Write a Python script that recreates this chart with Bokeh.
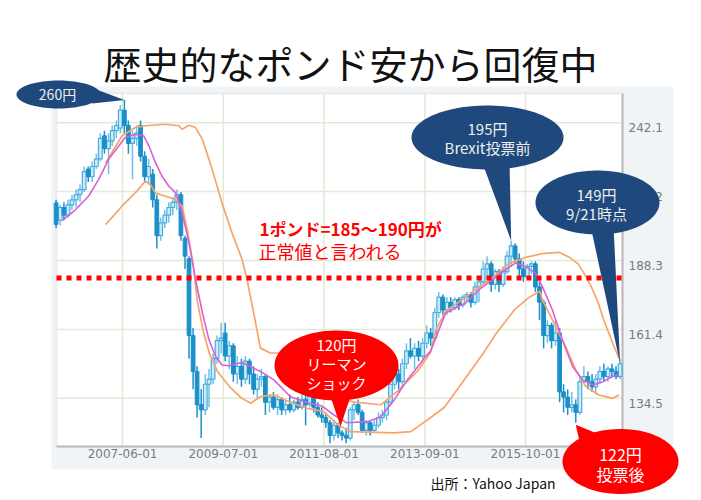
import numpy as np
import pandas as pd
from bokeh.plotting import figure
from bokeh.models import ColumnDataSource, Range1d, Label, PolyAnnotation, BoxAnnotation
from bokeh.core.properties import value
from bokeh.embed import file_html
from bokeh.resources import INLINE

# ---------------- data (monthly candles, 2006-01 .. 2017-09) ----------------
candle_dates = pd.date_range("2006-01-01", periods=141, freq="MS") + pd.Timedelta(days=14)

opens = [
    210.8, 204, 209, 206, 210, 212, 214, 216, 224, 221, 225, 228,      # 2006
    237, 232, 235, 239, 240, 247, 241, 234, 236, 241, 229, 221,        # 2007
    222, 212, 198, 203, 206, 209, 211, 214, 197, 189, 159, 145,        # 2008
    132, 130, 140, 142, 150, 157, 160, 151, 155, 144, 147, 142,        # 2009
    149, 144, 138, 142, 143, 133, 135, 131, 134, 130, 132, 130,        # 2010
    133, 131, 134, 132, 136, 131, 128, 127, 125, 120, 124, 121,        # 2011
    120, 119, 130, 132, 129, 122, 125, 122, 124, 127, 128, 133,        # 2012
    140, 144, 141, 148, 153, 151, 154, 151, 156, 160, 158, 168,        # 2013
    174, 169, 172, 170, 173, 171, 174, 175, 172, 178, 180, 185,        # 2014
    187, 179, 184, 179, 184, 190, 194, 189, 185, 182, 186, 187,        # 2015
    178, 172, 159, 163, 157, 160, 137, 135, 131, 132, 129, 141,        # 2016
    143, 141, 139, 142, 145, 143, 146, 145, 143]                       # 2017
highs = [
    212, 210, 211, 212, 214, 216, 218, 225, 225, 227, 230, 238,
    239, 238, 241, 243, 249, 251, 243, 239, 241, 243, 231, 228,
    224, 214, 205, 208, 211, 213, 216, 215, 198, 190, 162, 147,
    138, 144, 146, 152, 159, 164, 164, 157, 156, 151, 150, 151,
    150, 147, 144, 146, 144, 136, 137, 136, 135, 134, 136, 134,
    135, 136, 136, 138, 137, 133, 131, 129, 126, 126, 125, 122,
    123, 131, 133, 134, 130, 126, 126, 126, 129, 130, 134, 141,
    146, 146, 150, 156, 158, 156, 157, 158, 163, 162, 170, 176,
    175, 174, 174, 174, 174, 175, 176, 176, 180, 181, 188, 190,
    188, 185, 185, 186, 192, 196, 195, 191, 188, 187, 188, 188,
    180, 173, 165, 164, 165, 162, 140, 138, 137, 134, 143, 147,
    145, 144, 144, 147, 148, 147, 148, 147, 150]
lows = [
    201, 202, 204, 205, 208, 209, 211, 215, 219, 219, 224, 227,
    230, 222, 233, 236, 238, 238, 230, 220, 233, 227, 219, 218,
    209, 193, 196, 201, 203, 206, 208, 196, 185, 150, 138, 127,
    119, 128, 131, 140, 148, 152, 149, 146, 141, 140, 139, 140,
    140, 136, 134, 139, 128, 129, 130, 128, 128, 128, 129, 129,
    130, 130, 124, 131, 129, 127, 125, 123, 117, 118, 119, 118,
    117, 118, 126, 128, 121, 120, 120, 121, 123, 125, 126, 132,
    138, 137, 139, 146, 150, 146, 149, 150, 154, 155, 157, 166,
    167, 167, 168, 169, 169, 170, 172, 170, 171, 172, 179, 181,
    176, 177, 176, 178, 183, 186, 187, 182, 180, 181, 183, 176,
    165, 154, 156, 154, 155, 133, 129, 128, 129, 125, 128, 140,
    138, 137, 136, 140, 141, 141, 143, 142, 142]
closes = [
    202.4, 209, 206, 210, 212, 214, 216, 223, 221, 225, 228, 236,
    232, 235, 239, 241, 247, 241, 234, 236, 238, 229, 221, 225,
    212, 198, 203, 206, 209, 211, 214, 198, 190, 159, 145, 132,
    130, 140, 142, 150, 157, 158, 151, 155, 144, 147, 142, 149,
    144, 138, 142, 143, 133, 135, 131, 134, 130, 132, 130, 133,
    131, 134, 132, 136, 131, 128, 127, 125, 120, 124, 121, 120,
    119, 130, 132, 129, 122, 125, 122, 124, 127, 128, 133, 140,
    144, 141, 148, 153, 151, 154, 151, 156, 160, 158, 168, 174,
    169, 172, 170, 173, 171, 174, 175, 172, 178, 180, 185, 187,
    179, 184, 179, 184, 190, 194, 189, 185, 182, 186, 187, 178,
    172, 159, 163, 157, 160, 137, 135, 131, 132, 129, 141, 143,
    141, 139, 142, 145, 143, 146, 145, 143, 148]

# short moving average (pink)
pink_dates = ["2006-03-02", "2006-06-08", "2006-09-18", "2006-12-03", "2007-02-18", "2007-05-03",
              "2007-06-21", "2007-09-05", "2007-11-08", "2007-12-18", "2008-02-05", "2008-03-24",
              "2008-05-15", "2008-07-06", "2008-08-24", "2008-10-15", "2008-12-03", "2009-01-24",
              "2009-03-14", "2009-05-03", "2009-06-21", "2009-08-11", "2009-11-18", "2010-04-08",
              "2010-07-18", "2010-11-21", "2011-03-18", "2011-07-18", "2011-10-15", "2012-01-18",
              "2012-06-24", "2012-10-03", "2013-01-11", "2013-04-21", "2013-07-30", "2013-09-05",
              "2013-10-15", "2013-11-21", "2014-02-05", "2014-07-06", "2014-10-15", "2015-01-24",
              "2015-05-03", "2015-07-18", "2015-09-30", "2015-12-15", "2016-02-05", "2016-04-21",
              "2016-07-06", "2016-09-21", "2016-12-06", "2017-02-21", "2017-05-06", "2017-07-21",
              "2017-09-08"]
pink_vals = [204, 208, 213.5, 220, 228, 233, 236.3, 237.6, 237, 233, 226.5, 221.3,
             217.4, 214.7, 207, 195.2, 181, 168, 157.5, 151, 147.5, 147.2, 148.5, 145,
             141.7, 135.1, 133, 131.5, 128, 125, 125.4, 127.3, 133.8, 141.7, 148.2, 150.8,
             153, 158, 167.8, 171.7, 176.9, 180.8, 184.7, 187.3, 186, 183.4, 178.2, 169.1,
             157.3, 146.9, 141.7, 139.7, 141, 143, 143.6]

# slow orange line
orange_a_dates = ["2007-01-24", "2007-05-27", "2007-09-05", "2007-11-21", "2008-04-21", "2008-07-30",
                  "2008-08-24", "2008-10-15", "2008-12-03", "2009-01-24", "2009-04-08", "2009-06-21",
                  "2009-09-05", "2009-11-21", "2009-12-30", "2010-02-18", "2010-04-08", "2010-06-21",
                  "2010-09-05", "2011-01-18", "2011-05-18", "2011-09-18", "2012-03-18", "2012-10-03",
                  "2013-02-05", "2013-07-06", "2013-10-15", "2013-11-21", "2014-02-05", "2014-07-06",
                  "2014-10-15", "2015-01-24", "2015-05-27", "2015-09-30", "2016-02-05", "2016-06-08",
                  "2016-08-24", "2016-11-01", "2016-12-20", "2017-02-10", "2017-04-01", "2017-05-15",
                  "2017-07-21", "2017-09-08"]
orange_a_vals = [226.5, 236.9, 240.2, 240.9, 241.5, 240.9, 239.5, 241.1, 240.2, 235.6, 223.9, 210.8,
                 199.1, 188.6, 180.2, 167.2, 154.1, 152.2, 152.2, 147, 141, 135.5, 133, 132,
                 137.2, 145, 152.5, 161, 168.5, 174, 178, 181.5, 187, 189.5, 191, 191.5,
                 189.7, 187, 183, 178, 172, 165, 156, 150]

# second orange line
orange_b_dates = ["2007-01-24", "2007-05-27", "2007-09-05", "2007-11-21", "2007-12-27", "2008-02-05",
                  "2008-04-21", "2008-07-06", "2008-08-24", "2008-10-03", "2008-11-18", "2008-12-18",
                  "2009-02-03", "2009-03-18", "2009-05-18", "2009-08-18", "2009-11-18", "2010-01-24",
                  "2010-04-08", "2010-07-18", "2010-11-18", "2011-03-27", "2011-07-30", "2011-11-18",
                  "2012-02-18", "2013-01-08", "2013-05-18", "2013-10-15", "2014-01-27", "2014-06-15",
                  "2014-11-15", "2015-02-24", "2015-07-09", "2015-10-30", "2016-01-18", "2016-02-05",
                  "2016-04-21", "2016-07-30", "2016-10-15", "2016-12-30", "2017-04-08", "2017-07-21",
                  "2017-09-08"]
orange_b_vals = [202.3, 209.5, 214.7, 219.3, 218, 214.7, 213.4, 212.1, 209.5, 200, 186, 172,
                 160, 152, 145, 139, 134.5, 132.6, 135.2, 135.9, 133, 130.6, 129.3, 124,
                 121.5, 121, 121.5, 127, 131, 141, 152, 160, 169, 174, 176.3, 173,
                 165.2, 154.7, 145.6, 139.1, 135.8, 134.5, 135.8]

x_tick_dates = ["2007-06-01", "2009-07-01", "2011-08-01", "2013-09-01", "2015-10-01"]
x_tick_labels = ["2007-06-01", "2009-07-01", "2011-08-01", "2013-09-01", "2015-10-01"]
y_ticks = [134.5, 161.4, 188.3, 215.2, 242.1]
y_tick_labels = ["134.5", "161.4", "188.3", "215.2", "242.1"]
normal_level = 181.5

# ---------------- geometry ----------------
X0, X1 = pd.Timestamp("2006-01-18"), pd.Timestamp("2017-10-03")   # chart-area date span
Y0, Y1 = 115.7, 253.5                                              # chart-area value span
W, H = 701, 500
FL, FR, FT, FB = 56.0, 622.0, 93.0, 446.0                          # chart area on the page


def ms(t):
    return pd.Timestamp(t).value / 1e6


def dx(px):
    return ms(X0) + (px - FL) / (FR - FL) * (ms(X1) - ms(X0))


def dy(py):
    return Y1 - (py - FT) / (FB - FT) * (Y1 - Y0)


def px_x(t):
    return FL + (ms(t) - ms(X0)) / (ms(X1) - ms(X0)) * (FR - FL)


def px_y(v):
    return FT + (Y1 - v) / (Y1 - Y0) * (FB - FT)


p = figure(width=W, height=H, x_axis_type="datetime",
           x_axis_location=None, y_axis_location=None,
           x_range=Range1d(dx(0), dx(W)), y_range=Range1d(dy(H), dy(0)),
           output_backend="svg", toolbar_location=None,
           min_border_left=0, min_border_right=0, min_border_top=0, min_border_bottom=0)
p.background_fill_color = "white"
p.border_fill_color = "white"
p.outline_line_color = None
p.xgrid.visible = False
p.ygrid.visible = False

# grey chart panel + white plotting area
p.add_layout(BoxAnnotation(left=dx(51), right=dx(673), top=dy(86), bottom=dy(469),
                           fill_color="#f1f4f6", fill_alpha=1, line_color=None, level="image"))
p.add_layout(BoxAnnotation(left=ms(X0), right=ms(X1), top=Y1, bottom=Y0,
                           fill_color="white", fill_alpha=1, line_color="#cbcbcb",
                           line_width=2, level="image"))

# grid lines at the ticks
xt = pd.to_datetime(x_tick_dates)
p.segment(x0=xt, y0=[Y0] * len(xt), x1=xt, y1=[Y1] * len(xt),
          line_color="#e2ead5", line_width=1.5, level="underlay")
p.segment(x0=[X0] * len(y_ticks), y0=y_ticks, x1=[X1] * len(y_ticks), y1=y_ticks,
          line_color="#e2ead5", line_width=1.5, level="underlay")
# axis lines (right and bottom)
p.segment(x0=[X1, X0], y0=[Y0, Y0], x1=[X1, X1], y1=[Y1, Y0],
          line_color="#b9b9b9", line_width=2, level="underlay")

# tick labels
p.text(x=xt, y=[Y0] * len(xt), text=x_tick_labels, text_font=value("DejaVu Sans"),
       text_font_size="12px", text_color="#7a7a7a", text_align="center",
       text_baseline="top", y_offset=2)
p.text(x=[X1] * len(y_ticks), y=y_ticks, text=y_tick_labels, text_font=value("DejaVu Sans"),
       text_font_size="12px", text_color="#7a7a7a", text_align="left",
       text_baseline="middle", x_offset=6, y_offset=5)

# candles
df = pd.DataFrame(dict(date=candle_dates, open=opens, high=highs, low=lows, close=closes))
up = ColumnDataSource(df[df.close >= df.open])
dn = ColumnDataSource(df[df.close < df.open])
w = 28 * 24 * 3600 * 1000
p.segment(x0="date", y0="high", x1="date", y1="low", source=up, line_color="#6fc0e7", line_width=1.5)
p.vbar(x="date", width=w, top="close", bottom="open", source=up,
       fill_color="#cdeaf8", line_color="#45ade0", line_width=1.2)
p.segment(x0="date", y0="high", x1="date", y1="low", source=dn, line_color="#1f8fc8", line_width=1.5)
p.vbar(x="date", width=w, top="open", bottom="close", source=dn,
       fill_color="#1a8fc9", line_color="#1a8fc9", line_width=1)

# lines
p.line(x=pd.to_datetime(orange_a_dates), y=orange_a_vals, line_color="#f7a46b", line_width=1.7)
p.line(x=pd.to_datetime(orange_b_dates), y=orange_b_vals, line_color="#f7a46b", line_width=1.7)
p.line(x=pd.to_datetime(pink_dates), y=pink_vals, line_color="#d95fd9", line_width=1.6)

# "normal" level dotted line
p.segment(x0=[X0], y0=[normal_level], x1=[X1], y1=[normal_level],
          line_color="#ff0000", line_width=5, line_dash="5 5")

JP = "Noto Sans CJK JP"


def label(px, py, text, size, color, bold=False, align="center", font=JP):
    p.add_layout(Label(x=dx(px), y=dy(py), text=text, text_font=font,
                       text_font_size=f"{size}px", text_color=color, text_align=align,
                       text_baseline="middle", text_font_style="bold" if bold else "normal"))


def callout(cx, cy, rx, ry, b1, b2, tip, color):
    t = np.linspace(0, 2 * np.pi, 90, endpoint=False)
    ex = cx + rx * np.cos(t)
    ey = cy + ry * np.sin(t)
    p.add_layout(PolyAnnotation(xs=[dx(v) for v in ex], ys=[dy(v) for v in ey],
                                fill_color=color, fill_alpha=1, line_color=None))
    p.add_layout(PolyAnnotation(xs=[dx(b1[0]), dx(b2[0]), dx(tip[0])],
                                ys=[dy(b1[1]), dy(b2[1]), dy(tip[1])],
                                fill_color=color, fill_alpha=1, line_color=None))


NAVY = "#1f497d"
RED = "#ff0000"

# red text
label(259, 228, "1ポンド=185～190円が", 17, RED, bold=True, align="left")
label(258, 250, "正常値と言われる", 18, RED, align="left")

# callout anchors taken from the data
i_peak = int(np.argmax(highs))
tip_peak = (px_x(candle_dates[i_peak]), px_y(highs[i_peak]))
i_2015 = 113
tip_2015 = (px_x(candle_dates[i_2015]), px_y(highs[i_2015]))
tip_last = (px_x(candle_dates[-1]), px_y(closes[-1]))
i_oct16 = 129
tip_oct16 = (px_x(candle_dates[i_oct16]), px_y(lows[i_oct16]) + 2)

callout(58, 94, 42, 14, (80, 83), (92, 103), tip_peak, NAVY)
label(57, 93, "260円", 14, "#eeeeee")

callout(487, 137, 76, 32, (481, 160), (509, 160), tip_2015, NAVY)
label(487, 128, "195円", 15, "#eeeeee")
label(487, 147, "Brexit投票前", 15, "#eeeeee")

callout(597, 202, 62, 32, (590, 225), (613, 225), tip_last, NAVY)
label(596, 194, "149円", 15, "#eeeeee")
label(596, 213, "9/21時点", 15, "#eeeeee")

callout(336, 365, 62, 35, (328, 390), (352, 390), (340, 426), RED)
label(336, 344, "120円", 15, "white")
label(336, 363, "リーマン", 15, "white")
label(336, 382, "ショック", 15, "white")

callout(620, 461, 58, 32.5, (579, 441), (599, 434), tip_oct16, RED)
label(620, 453, "122円", 16, "white")
label(620, 473, "投票後", 16, "white")

# title & source
label(350, 62, "歴史的なポンド安から回復中", 38, "#111111")
label(430, 482, "出所：Yahoo Japan", 14, "#111111", align="left")

open("out.html", "w").write(file_html(p, INLINE))
